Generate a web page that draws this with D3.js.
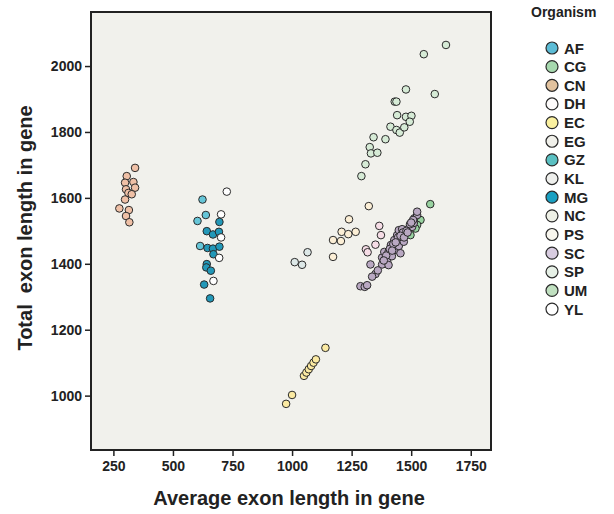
<!DOCTYPE html>
<html>
<head lang="en">
    <meta charset="UTF-8">
    <title>exon length</title>
    <script type="text/javascript" src="https://d3js.org/d3.v7.min.js"></script>
    <style type="text/css">
        body { margin: 0; background: #fff; }
        text { font-family: "Liberation Sans", Arial, sans-serif; font-weight: bold; fill: #222; }
        .tick text { font-size: 14px; }
        .axis-title { font-size: 20px; }
        .leg-label { font-size: 15px; }
    </style>
</head>
<body>
<script type="text/javascript">
    // legend order
    var organisms = ["AF","CG","CN","DH","EC","EG","GZ","KL","MG","NC","PS","SC","SP","UM","YL"];
    // point fills, and the (paler) fills used by the legend swatches
    var orgColors = ["#66c6d8","#98d2a0","#efc0a6","#f6dde6","#fbeaa2","#dde8e7","#5cc0c2","#eeefec",
                     "#2298b8","#eef0e6","#fcefd6","#b9a8c2","#d6ebd6","#c0e0c0","#ffffff"];
    var legendColors = ["#5cbcd6","#a6d8ae","#e2c29e","#fdfbfb","#fbf1a0","#f0f0ea","#5ac0c2","#eeefec",
                        "#1aa0c2","#eef0e6","#f8f6ee","#d8cce0","#e6f0e6","#c0e0c0","#ffffff"];

    var xTicks = [250,500,750,1000,1250,1500,1750];
    var yTicks = [1000,1200,1400,1600,1800,2000];

    // [average exon length, total exon length]
    var CN = [[341,1691],[306,1666],[299,1646],[334,1648],[303,1626],[341,1631],[313,1615],
              [327,1611],[299,1595],[275,1568],[315,1563],[303,1545],[317,1526]];
    var AF = [[624,1595],[638,1548],[603,1530],[614,1454]];
    var MG = [[695,1527],[642,1499],[668,1489],[693,1497],[645,1448],[668,1446],[695,1452],
              [670,1429],[642,1399],[640,1389],[659,1379],[631,1337],[656,1295]];
    var YL = [[726,1619],[702,1550],[702,1480],[694,1418],[670,1348]];
    var EC = [[975,975],[1000,1002],[1050,1060],[1060,1070],[1070,1080],[1080,1090],
              [1090,1100],[1100,1110],[1140,1145]];
    var EG = [[1065,1435],[1011,1405],[1042,1397]];
    var PS = [[1322,1575],[1239,1535],[1208,1497],[1236,1490],[1267,1497],[1172,1472],
              [1205,1469],[1172,1421]];
    var DH = [[1366,1515],[1373,1487],[1350,1458],[1310,1444],[1317,1435]];
    var SC = [[1329,1398],[1350,1369],[1336,1361],[1287,1332],[1305,1330],[1315,1335],
              [1378,1398],[1378,1419],[1392,1416],[1399,1408],[1387,1436],[1405,1436],
              [1419,1423],[1415,1457],[1438,1442],[1429,1472],[1448,1454],[1441,1487],
              [1459,1474],[1448,1502],[1462,1505],[1476,1492],[1490,1507],[1504,1512],
              [1511,1524],[1513,1538],[1525,1548],[1525,1558],[1508,1533],[1469,1467],
              [1455,1432],[1405,1396],[1395,1425],[1410,1445],[1425,1460],[1445,1480],
              [1465,1495],[1480,1500],[1495,1520],[1420,1440],[1385,1410],[1435,1465],
              [1455,1485],[1470,1480],[1485,1495],[1500,1525],[1360,1380]];
    var CG = [[1580,1581],[1539,1533],[1525,1518],[1497,1487],[1518,1507]];
    var SP = [[1646,2064],[1553,2036],[1478,1929],[1599,1915],[1431,1892],[1438,1892],
              [1441,1851],[1478,1846],[1501,1849],[1494,1831],[1413,1816],[1438,1806],
              [1452,1798],[1471,1814],[1342,1784],[1392,1778],[1326,1754],[1331,1735],
              [1358,1737],[1308,1702],[1291,1666]];

    var groups = {CN:CN, AF:AF, MG:MG, YL:YL, EC:EC, EG:EG, PS:PS, DH:DH, SC:SC, CG:CG, SP:SP};

    var W = 614, H = 514;
    var pL = 91, pR = 491, pT = 12, pB = 450;

    var svg = d3.select("body").append("svg").attr("width", W).attr("height", H);

    var x = d3.scaleLinear().domain([156, 1835]).range([pL, pR]);
    var y = d3.scaleLinear().domain([835, 2164]).range([pB, pT]);
    var color = d3.scaleOrdinal().domain(organisms).range(orgColors);
    var legColor = d3.scaleOrdinal().domain(organisms).range(legendColors);

    svg.append("rect")
        .attr("x", pL).attr("y", pT)
        .attr("width", pR - pL).attr("height", pB - pT)
        .attr("fill", "#f1f1ec");

    var points = [];
    organisms.forEach(function(o){
        (groups[o] || []).forEach(function(p){ points.push({org:o, x:p[0], y:p[1]}); });
    });

    svg.append("g").selectAll("circle").data(points).enter().append("circle")
        .attr("cx", function(d){ return x(d.x); })
        .attr("cy", function(d){ return y(d.y); })
        .attr("r", 3.8)
        .attr("fill", function(d){ return color(d.org); })
        .attr("stroke", "#2a2a2a")
        .attr("stroke-width", 1);

    svg.append("rect")
        .attr("x", pL).attr("y", pT)
        .attr("width", pR - pL).attr("height", pB - pT)
        .attr("fill", "none").attr("stroke", "#222").attr("stroke-width", 2);

    var xAxis = svg.append("g").attr("transform", "translate(0," + pB + ")")
        .call(d3.axisBottom(x).tickValues(xTicks).tickFormat(d3.format("d")).tickSize(6).tickPadding(5));
    var yAxis = svg.append("g").attr("transform", "translate(" + pL + ",0)")
        .call(d3.axisLeft(y).tickValues(yTicks).tickFormat(d3.format("d")).tickSize(6).tickPadding(3));
    [xAxis, yAxis].forEach(function(a){
        a.select(".domain").remove();
        a.selectAll(".tick line").attr("stroke", "#222").attr("stroke-width", 1.5);
        a.selectAll(".tick text").attr("font-family", null).attr("font-size", null);
    });

    svg.append("text").attr("class", "axis-title")
        .attr("x", 289).attr("y", 505).attr("text-anchor", "middle")
        .text("Average exon length in gene");
    svg.append("text").attr("class", "axis-title")
        .attr("transform", "translate(32,228) rotate(-90)").attr("text-anchor", "middle")
        .attr("xml:space", "preserve").style("white-space", "pre")
        .text("Total  exon length in gene");

    // legend
    svg.append("text").attr("x", 531).attr("y", 17).style("font-size", "14px").text("Organism");
    var leg = svg.append("g").selectAll("g").data(organisms).enter().append("g")
        .attr("transform", function(d, i){ return "translate(552," + (48 + i * 18.65) + ")"; });
    leg.append("circle").attr("r", 6)
        .attr("fill", function(d){ return legColor(d); })
        .attr("stroke", "#2a2a2a").attr("stroke-width", 1.2);
    leg.append("text").attr("class", "leg-label").attr("x", 12).attr("y", 5.5)
        .text(function(d){ return d; });
</script>
</body>
</html>
